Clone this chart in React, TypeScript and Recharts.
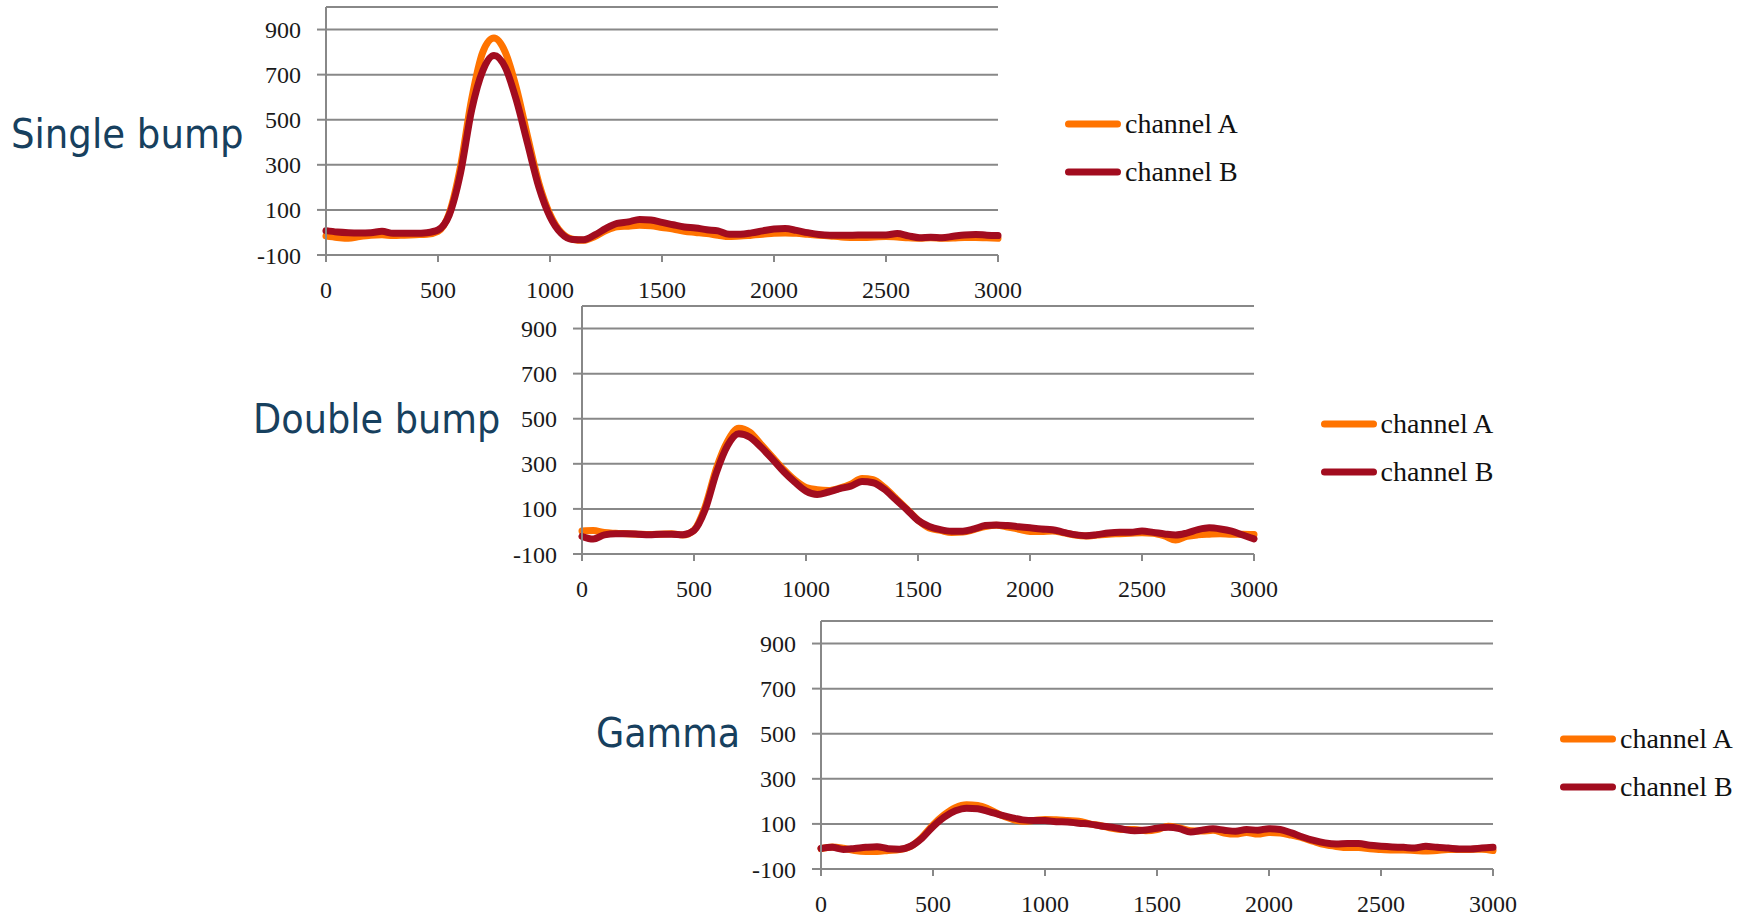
import React from 'react';
import { LineChart, Line, XAxis, YAxis, CartesianGrid, Legend } from 'recharts';

// sample times (ms)
const TIMES = [
  0, 50, 100, 150, 200, 250, 300, 350, 400, 450,
  500, 550, 600, 650, 700, 750, 800, 850, 900, 950,
  1000, 1050, 1100, 1150, 1200, 1250, 1300, 1350, 1400, 1450,
  1500, 1550, 1600, 1650, 1700, 1750, 1800, 1850, 1900, 1950,
  2000, 2050, 2100, 2150, 2200, 2250, 2300, 2350, 2400, 2450,
  2500, 2550, 2600, 2650, 2700, 2750, 2800, 2850, 2900, 2950,
  3000,
];

const X_TICKS = [0, 500, 1000, 1500, 2000, 2500, 3000];
const Y_TICKS = [-100, 100, 300, 500, 700, 900];

// Single bump
const singleA = [
  -16, -22, -26, -18, -12, -10, -14, -12, -10, -8,
  5, 85, 290, 590, 800, 862, 800, 640, 425, 220,
  80, 0, -30, -35, -18, 8, 25, 28, 32, 30,
  22, 15, 5, 0, -5, -12, -18, -16, -12, -8,
  -3, -2, -4, -8, -12, -16, -20, -22, -22, -20,
  -18, -20, -24, -26, -24, -26, -25, -22, -22, -24,
  -26,
];
const singleB = [
  8, 2, -1, -2, -1, 5, -4, -3, -4, -1,
  11, 77, 261, 542, 718, 785, 733, 586, 394, 202,
  70, -4, -31, -32, -11, 18, 40, 47, 58, 55,
  45, 34, 24, 20, 12, 7, -8, -8, -2, 7,
  15, 17, 9, -1, -9, -12, -12, -12, -11, -11,
  -11, -5, -15, -23, -21, -23, -17, -11, -9, -12,
  -14,
];

// Double bump
const doubleA = [
  2, 4, -5, -8, -10, -12, -14, -12, -10, -16,
  6, 110, 280, 400, 458, 440, 385, 330, 275, 228,
  195, 185, 182, 192, 210, 235, 230, 195, 148, 100,
  50, 15, 5, -5, -3, 8, 22, 28, 20, 10,
  0, 0, 2, -6, -16, -20, -16, -12, -10, -8,
  -6, -8, -20, -38, -22, -15, -12, -10, -12, -12,
  -14,
];
const doubleB = [
  -22, -34, -15, -10, -10, -12, -15, -12, -12, -15,
  4, 97, 261, 381, 433, 418, 373, 321, 266, 219,
  179, 164, 175, 190, 201, 222, 216, 187, 142, 97,
  49, 22, 8, 1, 1, 11, 26, 29, 26, 21,
  16, 11, 8, -4, -14, -19, -14, -7, -4, -4,
  2, -4, -11, -16, -7, 8, 16, 11, 1, -16,
  -33,
];

// Gamma
const gammaA = [
  -10, -2, -8, -18, -22, -22, -18, -14, 0, 40,
  95, 140, 172, 185, 182, 165, 140, 122, 112, 115,
  120, 118, 115, 112, 100, 92, 80, 75, 75, 70,
  75, 90, 82, 70, 68, 72, 60, 55, 62, 55,
  62, 60, 50, 38, 22, 8, 0, -5, -5, -10,
  -14, -16, -16, -18, -20, -18, -14, -14, -13, -12,
  -18,
];
const gammaB = [
  -9, -4, -13, -9, -4, -1, -10, -12, 1, 36,
  88, 130, 158, 170, 167, 155, 140, 128, 118, 115,
  115, 110, 109, 103, 99, 91, 85, 76, 70, 73,
  81, 85, 79, 64, 72, 78, 72, 67, 75, 72,
  79, 75, 60, 42, 27, 16, 11, 13, 13, 5,
  1, -2, -4, -7, 1, -4, -7, -11, -11, -7,
  -4,
];

const ORANGE = '#ff7300';
const DARK_RED = '#a20c1f';
const GRID = '#888888';
const TITLE_COLOR = '#17405e';

const channels = [
  { key: 'a', name: 'channel A', color: ORANGE },
  { key: 'b', name: 'channel B', color: DARK_RED },
];

const tickFont = { fontFamily: 'Liberation Serif', fontSize: 24, fill: '#1a1a1a' };

const renderLegend = () => (
  <div style={{ position: 'relative', width: 240, height: 80 }}>
    {channels.map((c, i) => (
      <div
        key={c.key}
        style={{ position: 'absolute', left: 0, top: i * 48, height: 30, display: 'flex', alignItems: 'center' }}
      >
        <svg width={62} height={10}>
          <line x1={5.5} y1={5} x2={54.5} y2={5} stroke={c.color} strokeWidth={7} strokeLinecap="round" />
        </svg>
        <span style={{ fontFamily: 'Liberation Serif', fontSize: 28, lineHeight: '30px', color: '#111', whiteSpace: 'nowrap' }}>
          {c.name}
        </span>
      </div>
    ))}
  </div>
);

function BumpChart({ plotLeft, plotTop, chA, chB }: { plotLeft: number; plotTop: number; chA: number[]; chB: number[] }) {
  const rows = TIMES.map((t, i) => ({ t, a: chA[i], b: chB[i] }));
  return (
    <div style={{ position: 'absolute', left: plotLeft - 120, top: plotTop - 10 }}>
      <LineChart width={1092} height={308} data={rows} margin={{ top: 10, right: 300, bottom: 0, left: 0 }}>
        <CartesianGrid vertical={false} stroke={GRID} strokeWidth={2} />
        <XAxis
          dataKey="t"
          type="number"
          domain={[0, 3000]}
          ticks={X_TICKS}
          interval={0}
          height={50}
          tickSize={7}
          tickMargin={19}
          axisLine={{ stroke: GRID, strokeWidth: 2 }}
          tickLine={{ stroke: GRID, strokeWidth: 2 }}
          tick={tickFont}
        />
        <YAxis
          type="number"
          domain={[-100, 1000]}
          ticks={Y_TICKS}
          interval={0}
          width={120}
          tickSize={9}
          tickMargin={16}
          axisLine={{ stroke: GRID, strokeWidth: 2 }}
          tickLine={{ stroke: GRID, strokeWidth: 2 }}
          tick={tickFont}
        />
        <Legend
          layout="vertical"
          align="center"
          verticalAlign="middle"
          content={renderLegend}
          wrapperStyle={{ left: 857, top: 112.6, width: 240, height: 80 }}
        />
        {channels.map((c) => (
          <Line
            key={c.key}
            dataKey={c.key}
            name={c.name}
            type="monotone"
            stroke={c.color}
            strokeWidth={7}
            strokeLinejoin="round"
            strokeLinecap="round"
            dot={false}
            activeDot={false}
            isAnimationActive={false}
          />
        ))}
      </LineChart>
    </div>
  );
}

// titles are drawn condensed, like the reference
const titles = [
  { text: 'Single bump', x: 11, y: 148, sx: 0.905 },
  { text: 'Double bump', x: 253, y: 433, sx: 0.895 },
  { text: 'Gamma', x: 596, y: 747, sx: 0.89 },
];

export default function App() {
  return (
    <div style={{ position: 'absolute', left: 0, top: 0, width: 1749, height: 917, overflow: 'hidden', background: '#fff' }}>
      <svg width={1749} height={917} style={{ position: 'absolute', left: 0, top: 0 }}>
        {titles.map((t) => (
          <text
            key={t.text}
            transform={`translate(${t.x},${t.y}) scale(${t.sx},1)`}
            fontFamily="DejaVu Sans"
            fontSize={41}
            fill={TITLE_COLOR}
          >
            {t.text}
          </text>
        ))}
      </svg>
      <BumpChart plotLeft={326} plotTop={6.5} chA={singleA} chB={singleB} />
      <BumpChart plotLeft={581.6} plotTop={306.4} chA={doubleA} chB={doubleB} />
      <BumpChart plotLeft={821} plotTop={621.4} chA={gammaA} chB={gammaB} />
    </div>
  );
}
